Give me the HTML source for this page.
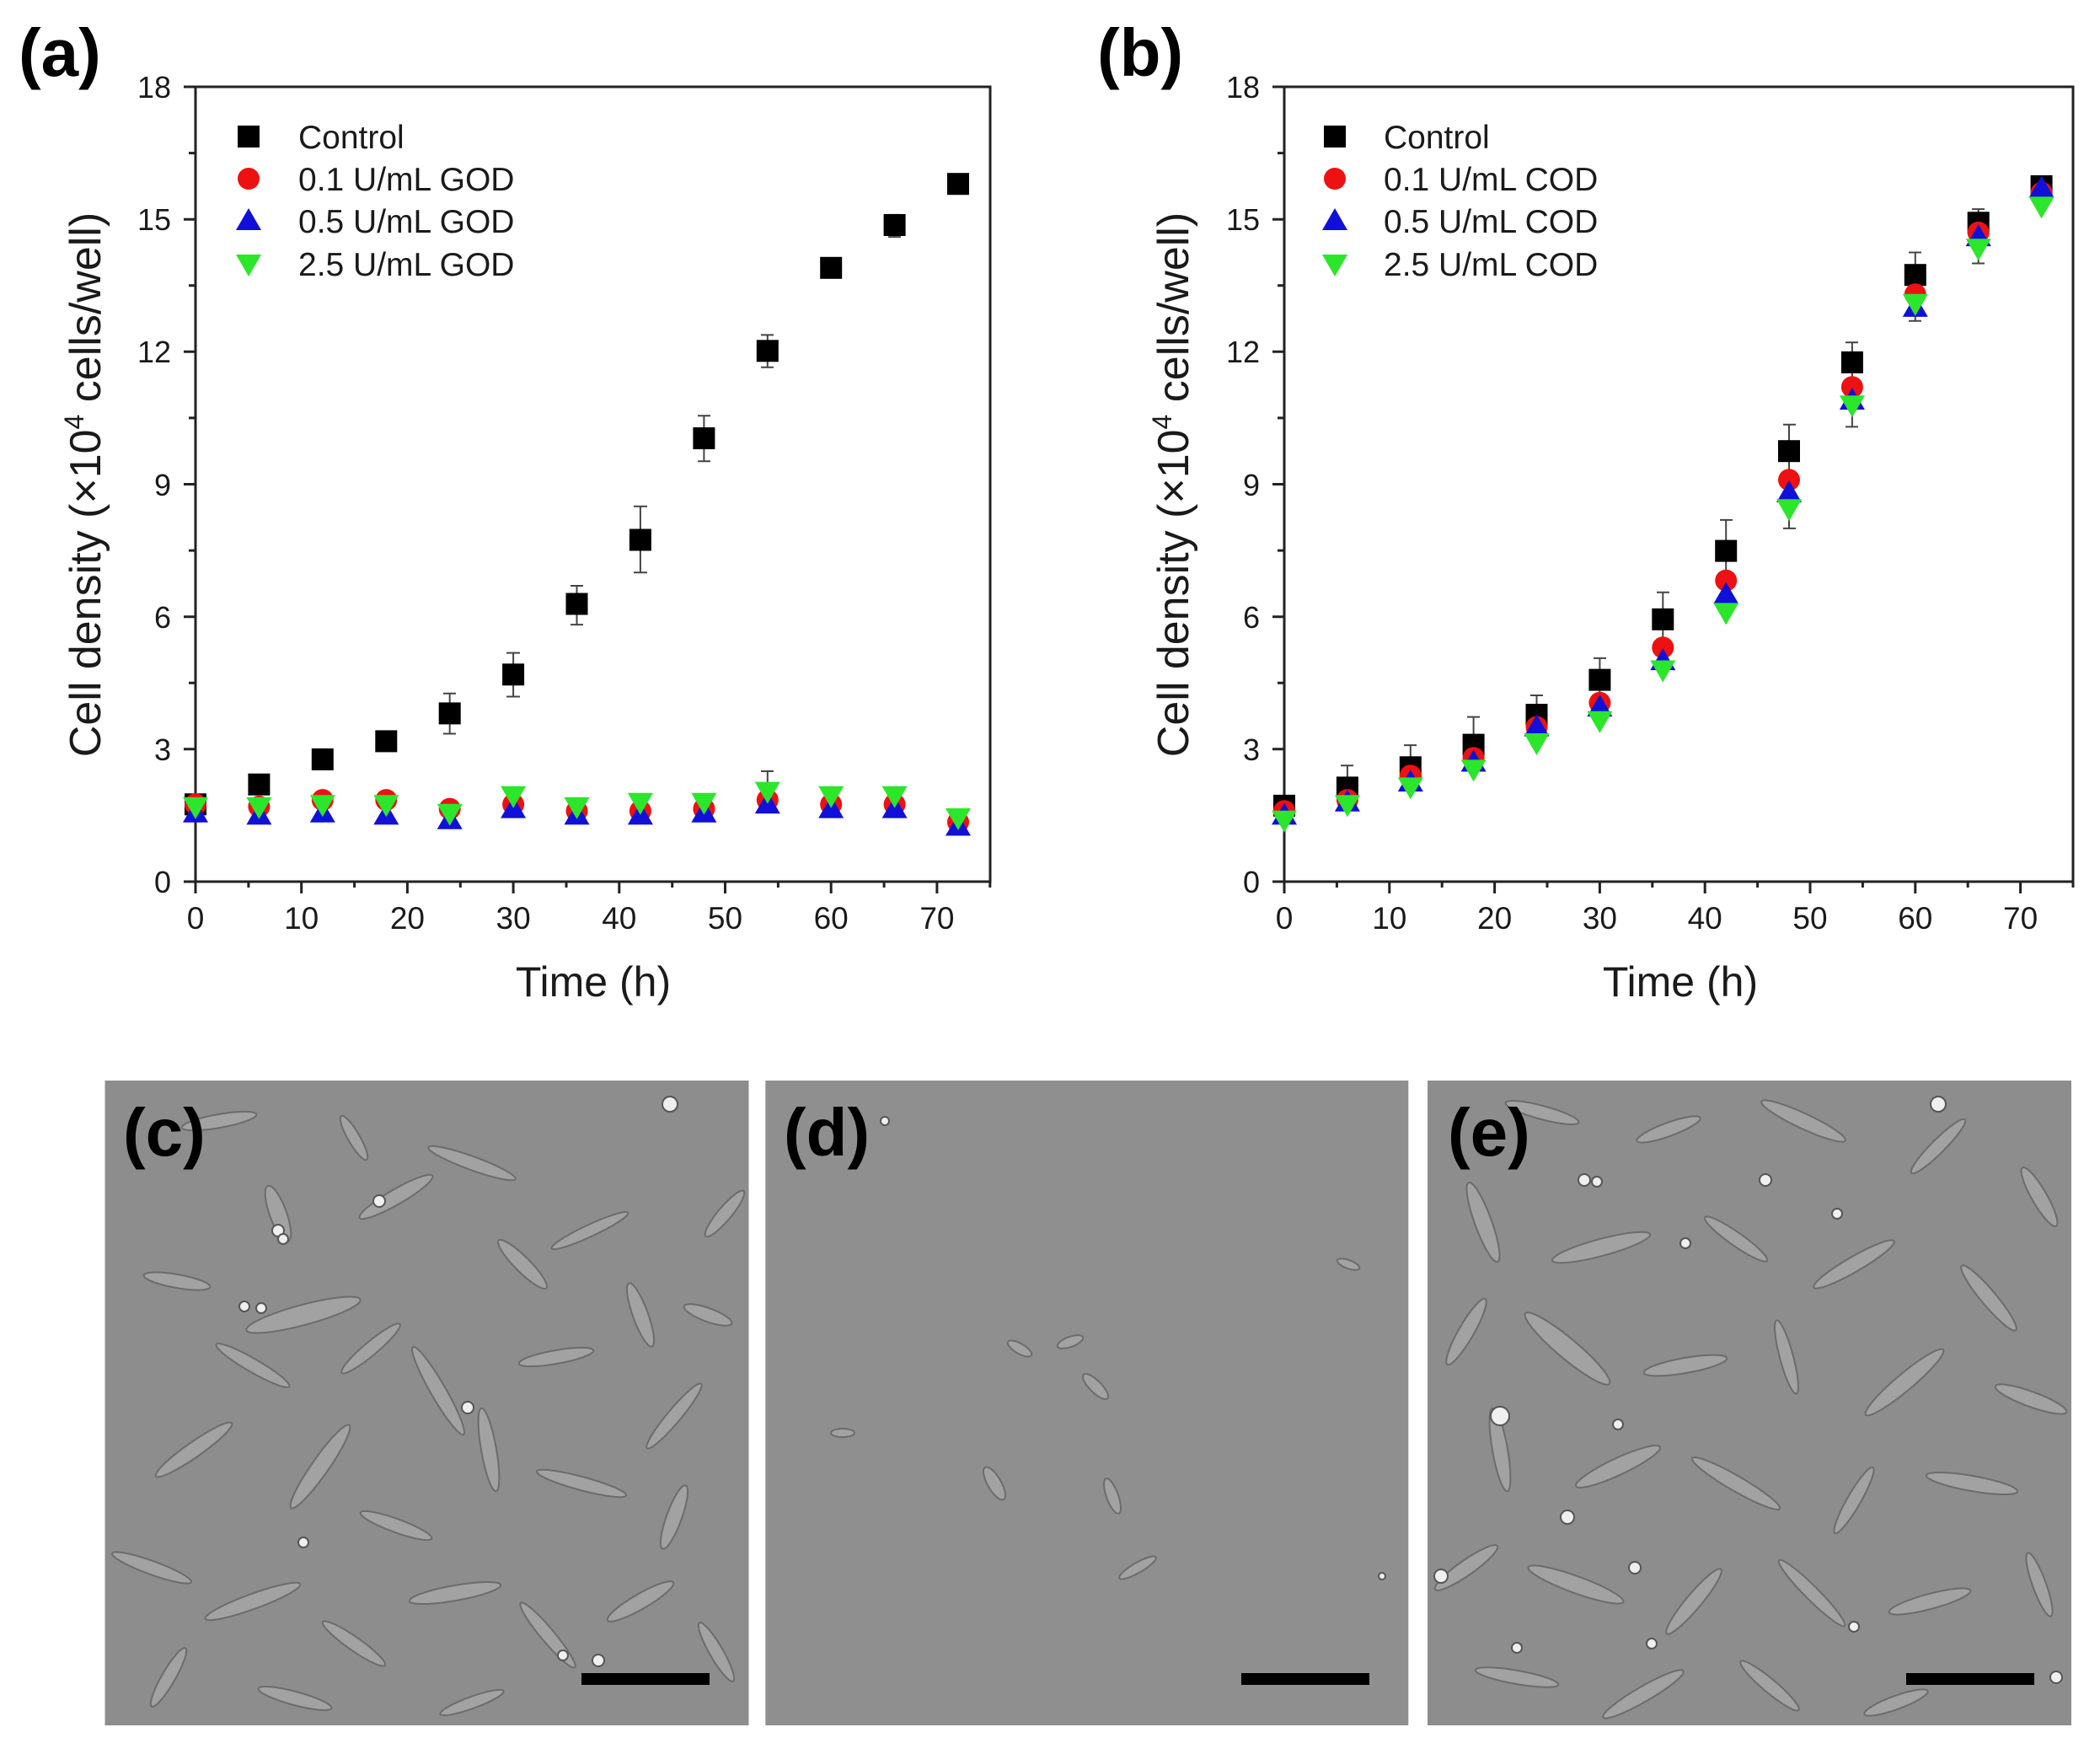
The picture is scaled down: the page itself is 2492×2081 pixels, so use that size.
<!DOCTYPE html>
<html><head><meta charset="utf-8"><style>
html,body{margin:0;padding:0;background:#fff;}
svg{display:block;}
text{font-family:"Liberation Sans",Arial,sans-serif;fill:#1a1a1a;}
.tk{font-size:36px;}
.ttl{font-size:52px;}
.lg{font-size:39px;}
.pl{font-size:80px;font-weight:bold;fill:#000;}
.ax{stroke:#222;stroke-width:3;fill:none;}
.eb{stroke:#444;stroke-width:2;fill:none;}
.cell{fill:#a2a2a2;stroke:#6c6c6c;stroke-width:2;}
.cell2{fill:#999;stroke:#b8b8b8;stroke-width:2;}
.dot{fill:#efefef;stroke:#555;stroke-width:2;}
</style></head><body>
<svg width="2492" height="2081" viewBox="0 0 2492 2081" xmlns="http://www.w3.org/2000/svg">
<defs>
<rect id="sq" x="-13" y="-13" width="26" height="26" fill="#000"/>
<circle id="ci" cx="0" cy="0" r="13" fill="#ee1111"/>
<polygon id="tu" points="0,-15 -15,11 15,11" fill="#1010d8"/>
<polygon id="td" points="-15,-11 15,-11 0,15" fill="#2be62b"/>
</defs>

<!-- ================= PANEL A ================= -->
<text class="pl" x="22" y="90">(a)</text>
<rect class="ax" x="232" y="103" width="943" height="943"/>
<g class="ax">
<path d="M218 1046H232M218 888.8H232M218 731.7H232M218 574.5H232M218 417.3H232M218 260.2H232M218 103H232"/>
<path d="M224 967.4H232M224 810.2H232M224 653.1H232M224 495.9H232M224 338.7H232M224 181.6H232"/>
<path d="M232 1046V1060M357.7 1046V1060M483.4 1046V1060M609.1 1046V1060M734.8 1046V1060M860.5 1046V1060M986.2 1046V1060M1111.9 1046V1060"/>
<path d="M294.9 1046V1053M420.6 1046V1053M546.3 1046V1053M672 1046V1053M797.7 1046V1053M923.4 1046V1053M1049.1 1046V1053M1174.8 1046V1053"/>
</g>
<g class="tk" text-anchor="end">
<text x="203" y="1059">0</text><text x="203" y="902">3</text><text x="203" y="745">6</text><text x="203" y="588">9</text><text x="203" y="430">12</text><text x="203" y="273">15</text><text x="203" y="116">18</text>
</g>
<g class="tk" text-anchor="middle" style="font-size:37px">
<text x="232" y="1102">0</text><text x="357.7" y="1102">10</text><text x="483.4" y="1102">20</text><text x="609.1" y="1102">30</text><text x="734.8" y="1102">40</text><text x="860.5" y="1102">50</text><text x="986.2" y="1102">60</text><text x="1111.9" y="1102">70</text>
</g>
<text class="ttl" x="704" y="1182" text-anchor="middle" style="font-size:50px">Time (h)</text>
<text class="ttl" transform="translate(119,575) rotate(-90)" text-anchor="middle">Cell density (×10<tspan dy="-20" style="font-size:32px">4</tspan><tspan dy="20"> cells/well)</tspan></text>

<!-- legend a -->
<use href="#sq" x="295" y="162"/><text class="lg" x="354" y="176">Control</text>
<use href="#ci" x="295" y="212"/><text class="lg" x="354" y="226">0.1 U/mL GOD</text>
<use href="#tu" x="295" y="262"/><text class="lg" x="354" y="276">0.5 U/mL GOD</text>
<use href="#td" x="295" y="313"/><text class="lg" x="354" y="327">2.5 U/mL GOD</text>

<!-- error bars a control -->
<g class="eb">
<path d="M307.4 922.9V938.6M300 922.9H315"/>
<path d="M382.8 894.1V907.2M375 894.1H390"/>
<path d="M458.3 873.1V886.2M451 873.1H466"/>
<path d="M533.7 822.8V870.5M526 822.8H541M526 870.5H541"/>
<path d="M609.1 774.6V826.5M601 774.6H617M601 826.5H617"/>
<path d="M684.5 695V741.1M677 695H692M677 741.1H692"/>
<path d="M759.9 600.7V679.3M752 600.7H768M752 679.3H768"/>
<path d="M835.4 493.3V547.2M828 493.3H843M828 547.2H843"/>
<path d="M910.8 397.4V435.7M903 397.4H918M903 435.7H918"/>
<path d="M986.2 309.9V325.6M979 309.9H994"/>
<path d="M1061.6 254.9V281.1M1054 254.9H1069M1054 281.1H1069"/>
<path d="M1137 210.4V226.1M1130 210.4H1144"/>
<path d="M910.8 915V962.2M903 915H918"/>
</g>
<!-- control a -->
<g>
<use href="#sq" x="232" y="954.3"/><use href="#sq" x="307.4" y="930.7"/><use href="#sq" x="382.8" y="900.9"/><use href="#sq" x="458.3" y="879.4"/><use href="#sq" x="533.7" y="846.4"/><use href="#sq" x="609.1" y="800.3"/><use href="#sq" x="684.5" y="716.5"/><use href="#sq" x="759.9" y="640.5"/><use href="#sq" x="835.4" y="520"/><use href="#sq" x="910.8" y="416.3"/><use href="#sq" x="986.2" y="317.8"/><use href="#sq" x="1061.6" y="267"/><use href="#sq" x="1137" y="218.2"/>
</g>
<g>
<use href="#ci" x="232" y="954.3"/><use href="#ci" x="307.4" y="956.9"/><use href="#ci" x="382.8" y="949.1"/><use href="#ci" x="458.3" y="949.1"/><use href="#ci" x="533.7" y="959.6"/><use href="#ci" x="609.1" y="954.3"/><use href="#ci" x="684.5" y="962.2"/><use href="#ci" x="759.9" y="962.2"/><use href="#ci" x="835.4" y="959.6"/><use href="#ci" x="910.8" y="949.1"/><use href="#ci" x="986.2" y="954.3"/><use href="#ci" x="1061.6" y="954.3"/><use href="#ci" x="1137" y="975.3"/>
</g>
<g>
<use href="#tu" x="232" y="964.8"/><use href="#tu" x="307.4" y="967.4"/><use href="#tu" x="382.8" y="964.8"/><use href="#tu" x="458.3" y="967.4"/><use href="#tu" x="533.7" y="972.7"/><use href="#tu" x="609.1" y="959.6"/><use href="#tu" x="684.5" y="967.4"/><use href="#tu" x="759.9" y="967.4"/><use href="#tu" x="835.4" y="964.8"/><use href="#tu" x="910.8" y="954.3"/><use href="#tu" x="986.2" y="959.6"/><use href="#tu" x="1061.6" y="959.6"/><use href="#tu" x="1137" y="980.5"/>
</g>
<g>
<use href="#td" x="232" y="956.9"/><use href="#td" x="307.4" y="956.9"/><use href="#td" x="382.8" y="954.3"/><use href="#td" x="458.3" y="954.3"/><use href="#td" x="533.7" y="964.8"/><use href="#td" x="609.1" y="943.8"/><use href="#td" x="684.5" y="956.9"/><use href="#td" x="759.9" y="951.7"/><use href="#td" x="835.4" y="951.7"/><use href="#td" x="910.8" y="938.6"/><use href="#td" x="986.2" y="943.8"/><use href="#td" x="1061.6" y="943.8"/><use href="#td" x="1137" y="970"/>
</g>

<!-- ================= PANEL B ================= -->
<text class="pl" x="1302" y="90">(b)</text>
<rect class="ax" x="1524" y="103" width="936" height="943"/>
<g class="ax">
<path d="M1510 1046H1524M1510 888.8H1524M1510 731.7H1524M1510 574.5H1524M1510 417.3H1524M1510 260.2H1524M1510 103H1524"/>
<path d="M1516 967.4H1524M1516 810.2H1524M1516 653.1H1524M1516 495.9H1524M1516 338.7H1524M1516 181.6H1524"/>
<path d="M1524 1046V1060M1648.8 1046V1060M1773.6 1046V1060M1898.4 1046V1060M2023.2 1046V1060M2148 1046V1060M2272.8 1046V1060M2397.6 1046V1060"/>
<path d="M1586.4 1046V1053M1711.2 1046V1053M1836 1046V1053M1960.8 1046V1053M2085.6 1046V1053M2210.4 1046V1053M2335.2 1046V1053M2460 1046V1053"/>
</g>
<g class="tk" text-anchor="end">
<text x="1495" y="1059">0</text><text x="1495" y="902">3</text><text x="1495" y="745">6</text><text x="1495" y="588">9</text><text x="1495" y="430">12</text><text x="1495" y="273">15</text><text x="1495" y="116">18</text>
</g>
<g class="tk" text-anchor="middle" style="font-size:37px">
<text x="1524" y="1102">0</text><text x="1648.8" y="1102">10</text><text x="1773.6" y="1102">20</text><text x="1898.4" y="1102">30</text><text x="2023.2" y="1102">40</text><text x="2148" y="1102">50</text><text x="2272.8" y="1102">60</text><text x="2397.6" y="1102">70</text>
</g>
<text class="ttl" x="1994" y="1182" text-anchor="middle" style="font-size:50px">Time (h)</text>
<text class="ttl" transform="translate(1410,575) rotate(-90)" text-anchor="middle">Cell density (×10<tspan dy="-20" style="font-size:32px">4</tspan><tspan dy="20"> cells/well)</tspan></text>

<use href="#sq" x="1584" y="162"/><text class="lg" x="1642" y="176">Control</text>
<use href="#ci" x="1584" y="212"/><text class="lg" x="1642" y="226">0.1 U/mL COD</text>
<use href="#tu" x="1584" y="262"/><text class="lg" x="1642" y="276">0.5 U/mL COD</text>
<use href="#td" x="1584" y="313"/><text class="lg" x="1642" y="327">2.5 U/mL COD</text>

<g class="eb">
<path d="M1524 945.4V966.4M1517 945.4H1531"/>
<path d="M1598.9 908.2V960.6M1591 908.2H1606"/>
<path d="M1673.8 884.1V936.5M1666 884.1H1681"/>
<path d="M1748.6 850.6V916.6M1741 850.6H1756"/>
<path d="M1823.5 825V871M1816 825H1831"/>
<path d="M1898.4 780.9V832.3M1891 780.9H1906"/>
<path d="M1973.3 702.8V766.8M1966 702.8H1981"/>
<path d="M2048.2 616.9V690.3M2041 616.9H2056"/>
<path d="M2123 503.8V566.6M2116 503.8H2131"/>
<path d="M2197.9 406.3V453.5M2190 406.3H2205"/>
<path d="M2272.8 299.5V352.9M2265 299.5H2280"/>
<path d="M2347.7 248.1V280.5M2340 248.1H2355"/>
<path d="M2422.6 213V228.8M2415 213H2430"/>
<path d="M2123 579.7V626.9M2116 626.9H2131"/>
<path d="M2197.9 454V506.4M2190 506.4H2205"/>
<path d="M2272.8 338.7V380.7M2265 380.7H2280"/>
<path d="M2347.7 275.9V312.5M2340 312.5H2355"/>
</g>
<g>
<use href="#sq" x="1524" y="955.9"/><use href="#sq" x="1598.9" y="934.4"/><use href="#sq" x="1673.8" y="910.3"/><use href="#sq" x="1748.6" y="883.6"/><use href="#sq" x="1823.5" y="848"/><use href="#sq" x="1898.4" y="806.6"/><use href="#sq" x="1973.3" y="734.8"/><use href="#sq" x="2048.2" y="653.6"/><use href="#sq" x="2123" y="535.2"/><use href="#sq" x="2197.9" y="429.9"/><use href="#sq" x="2272.8" y="326.2"/><use href="#sq" x="2347.7" y="264.3"/><use href="#sq" x="2422.6" y="220.9"/>
</g>
<g>
<use href="#ci" x="1524" y="962.2"/><use href="#ci" x="1598.9" y="949.1"/><use href="#ci" x="1673.8" y="920.3"/><use href="#ci" x="1748.6" y="899.3"/><use href="#ci" x="1823.5" y="862.6"/><use href="#ci" x="1898.4" y="833.8"/><use href="#ci" x="1973.3" y="768.3"/><use href="#ci" x="2048.2" y="688.7"/><use href="#ci" x="2123" y="569.3"/><use href="#ci" x="2197.9" y="459.2"/><use href="#ci" x="2272.8" y="349.2"/><use href="#ci" x="2347.7" y="275.9"/><use href="#ci" x="2422.6" y="228.7"/>
</g>
<g>
<use href="#tu" x="1524" y="967.4"/><use href="#tu" x="1598.9" y="951.7"/><use href="#tu" x="1673.8" y="928.1"/><use href="#tu" x="1748.6" y="904.5"/><use href="#tu" x="1823.5" y="862.6"/><use href="#tu" x="1898.4" y="839.1"/><use href="#tu" x="1973.3" y="784.1"/><use href="#tu" x="2048.2" y="705.5"/><use href="#tu" x="2123" y="585"/><use href="#tu" x="2197.9" y="475"/><use href="#tu" x="2272.8" y="364.9"/><use href="#tu" x="2347.7" y="281.1"/><use href="#tu" x="2422.6" y="223.5"/>
</g>
<g>
<use href="#td" x="1524" y="972.7"/><use href="#td" x="1598.9" y="954.3"/><use href="#td" x="1673.8" y="933.4"/><use href="#td" x="1748.6" y="912.4"/><use href="#td" x="1823.5" y="881"/><use href="#td" x="1898.4" y="854.8"/><use href="#td" x="1973.3" y="794.5"/><use href="#td" x="2048.2" y="726.4"/><use href="#td" x="2123" y="603.3"/><use href="#td" x="2197.9" y="480.2"/><use href="#td" x="2272.8" y="359.7"/><use href="#td" x="2347.7" y="294.2"/><use href="#td" x="2422.6" y="244.4"/>
</g>

<!-- ================= MICROGRAPHS ================= -->
<!-- (c) -->
<clipPath id="cc"><rect x="124.5" y="1282" width="764" height="765"/></clipPath>
<rect x="124.5" y="1282" width="764" height="765" fill="#8d8d8d"/>
<g clip-path="url(#cc)">
<g class="cell">
<ellipse cx="260" cy="1330" rx="45" ry="8" transform="rotate(-10 260 1330)"/>
<ellipse cx="420" cy="1350" rx="30" ry="7" transform="rotate(60 420 1350)"/>
<ellipse cx="470" cy="1420" rx="50" ry="9" transform="rotate(-30 470 1420)"/>
<ellipse cx="330" cy="1440" rx="35" ry="10" transform="rotate(70 330 1440)"/>
<ellipse cx="560" cy="1380" rx="55" ry="8" transform="rotate(20 560 1380)"/>
<ellipse cx="700" cy="1460" rx="50" ry="7" transform="rotate(-25 700 1460)"/>
<ellipse cx="620" cy="1500" rx="40" ry="9" transform="rotate(45 620 1500)"/>
<ellipse cx="210" cy="1520" rx="40" ry="8" transform="rotate(10 210 1520)"/>
<ellipse cx="360" cy="1560" rx="70" ry="12" transform="rotate(-15 360 1560)"/>
<ellipse cx="300" cy="1620" rx="50" ry="8" transform="rotate(30 300 1620)"/>
<ellipse cx="440" cy="1600" rx="45" ry="8" transform="rotate(-40 440 1600)"/>
<ellipse cx="520" cy="1650" rx="60" ry="9" transform="rotate(60 520 1650)"/>
<ellipse cx="660" cy="1610" rx="45" ry="8" transform="rotate(-10 660 1610)"/>
<ellipse cx="760" cy="1560" rx="40" ry="9" transform="rotate(70 760 1560)"/>
<ellipse cx="800" cy="1680" rx="50" ry="8" transform="rotate(-50 800 1680)"/>
<ellipse cx="230" cy="1720" rx="55" ry="9" transform="rotate(-35 230 1720)"/>
<ellipse cx="380" cy="1740" rx="60" ry="10" transform="rotate(-55 380 1740)"/>
<ellipse cx="470" cy="1810" rx="45" ry="8" transform="rotate(20 470 1810)"/>
<ellipse cx="580" cy="1720" rx="50" ry="9" transform="rotate(80 580 1720)"/>
<ellipse cx="690" cy="1760" rx="55" ry="8" transform="rotate(15 690 1760)"/>
<ellipse cx="800" cy="1800" rx="40" ry="9" transform="rotate(-70 800 1800)"/>
<ellipse cx="180" cy="1860" rx="50" ry="8" transform="rotate(20 180 1860)"/>
<ellipse cx="300" cy="1900" rx="60" ry="9" transform="rotate(-20 300 1900)"/>
<ellipse cx="420" cy="1950" rx="45" ry="8" transform="rotate(35 420 1950)"/>
<ellipse cx="540" cy="1890" rx="55" ry="9" transform="rotate(-10 540 1890)"/>
<ellipse cx="650" cy="1940" rx="50" ry="8" transform="rotate(50 650 1940)"/>
<ellipse cx="760" cy="1900" rx="45" ry="9" transform="rotate(-30 760 1900)"/>
<ellipse cx="850" cy="1960" rx="40" ry="8" transform="rotate(60 850 1960)"/>
<ellipse cx="200" cy="1990" rx="40" ry="8" transform="rotate(-60 200 1990)"/>
<ellipse cx="350" cy="2015" rx="45" ry="8" transform="rotate(15 350 2015)"/>
<ellipse cx="560" cy="2020" rx="40" ry="7" transform="rotate(-20 560 2020)"/>
<ellipse cx="860" cy="1440" rx="35" ry="8" transform="rotate(-50 860 1440)"/>
<ellipse cx="840" cy="1560" rx="30" ry="8" transform="rotate(20 840 1560)"/>
</g>
<g class="dot">
<circle cx="795" cy="1310" r="9"/><circle cx="450" cy="1425" r="7"/><circle cx="330" cy="1460" r="7"/><circle cx="336" cy="1470" r="6"/><circle cx="290" cy="1550" r="6"/><circle cx="310" cy="1552" r="6"/><circle cx="555" cy="1670" r="7"/><circle cx="360" cy="1830" r="6"/><circle cx="710" cy="1970" r="7"/><circle cx="668" cy="1964" r="6"/>
</g>
</g>
<text class="pl" x="146" y="1371">(c)</text>
<rect x="690" y="1985" width="152" height="14" fill="#000"/>

<!-- (d) -->
<rect x="908.3" y="1282" width="763" height="765" fill="#8f8f8f"/>
<g class="cell">
<ellipse cx="1210" cy="1600" rx="16" ry="6" transform="rotate(30 1210 1600)"/>
<ellipse cx="1270" cy="1592" rx="16" ry="6" transform="rotate(-20 1270 1592)"/>
<ellipse cx="1300" cy="1645" rx="20" ry="7" transform="rotate(45 1300 1645)"/>
<ellipse cx="1000" cy="1700" rx="14" ry="5"/>
<ellipse cx="1180" cy="1760" rx="22" ry="8" transform="rotate(60 1180 1760)"/>
<ellipse cx="1320" cy="1775" rx="22" ry="7" transform="rotate(70 1320 1775)"/>
<ellipse cx="1350" cy="1860" rx="25" ry="6" transform="rotate(-30 1350 1860)"/>
<ellipse cx="1600" cy="1500" rx="14" ry="5" transform="rotate(20 1600 1500)"/>
</g>
<g class="dot"><circle cx="1050" cy="1330" r="5"/><circle cx="1640" cy="1870" r="4"/></g>
<text class="pl" x="930" y="1371">(d)</text>
<rect x="1473" y="1985" width="152" height="14" fill="#000"/>

<!-- (e) -->
<clipPath id="ce"><rect x="1694" y="1282" width="764" height="765"/></clipPath>
<rect x="1694" y="1282" width="764" height="765" fill="#8d8d8d"/>
<g clip-path="url(#ce)">
<g class="cell">
<ellipse cx="1830" cy="1320" rx="45" ry="8" transform="rotate(15 1830 1320)"/>
<ellipse cx="1980" cy="1340" rx="40" ry="8" transform="rotate(-20 1980 1340)"/>
<ellipse cx="2140" cy="1330" rx="55" ry="9" transform="rotate(25 2140 1330)"/>
<ellipse cx="2300" cy="1360" rx="45" ry="8" transform="rotate(-45 2300 1360)"/>
<ellipse cx="2420" cy="1420" rx="40" ry="9" transform="rotate(60 2420 1420)"/>
<ellipse cx="1760" cy="1450" rx="50" ry="10" transform="rotate(70 1760 1450)"/>
<ellipse cx="1900" cy="1480" rx="60" ry="10" transform="rotate(-15 1900 1480)"/>
<ellipse cx="2060" cy="1470" rx="45" ry="8" transform="rotate(35 2060 1470)"/>
<ellipse cx="2200" cy="1500" rx="55" ry="9" transform="rotate(-30 2200 1500)"/>
<ellipse cx="2360" cy="1540" rx="50" ry="9" transform="rotate(50 2360 1540)"/>
<ellipse cx="1740" cy="1580" rx="45" ry="9" transform="rotate(-60 1740 1580)"/>
<ellipse cx="1860" cy="1600" rx="65" ry="12" transform="rotate(40 1860 1600)"/>
<ellipse cx="2000" cy="1620" rx="50" ry="9" transform="rotate(-10 2000 1620)"/>
<ellipse cx="2120" cy="1610" rx="45" ry="8" transform="rotate(75 2120 1610)"/>
<ellipse cx="2260" cy="1640" rx="60" ry="10" transform="rotate(-40 2260 1640)"/>
<ellipse cx="2410" cy="1660" rx="45" ry="9" transform="rotate(20 2410 1660)"/>
<ellipse cx="1780" cy="1720" rx="50" ry="9" transform="rotate(80 1780 1720)"/>
<ellipse cx="1920" cy="1740" rx="55" ry="10" transform="rotate(-25 1920 1740)"/>
<ellipse cx="2060" cy="1760" rx="60" ry="9" transform="rotate(30 2060 1760)"/>
<ellipse cx="2200" cy="1780" rx="45" ry="8" transform="rotate(-60 2200 1780)"/>
<ellipse cx="2340" cy="1760" rx="55" ry="9" transform="rotate(10 2340 1760)"/>
<ellipse cx="1740" cy="1860" rx="45" ry="9" transform="rotate(-35 1740 1860)"/>
<ellipse cx="1870" cy="1880" rx="60" ry="10" transform="rotate(20 1870 1880)"/>
<ellipse cx="2010" cy="1900" rx="50" ry="9" transform="rotate(-50 2010 1900)"/>
<ellipse cx="2150" cy="1890" rx="55" ry="8" transform="rotate(45 2150 1890)"/>
<ellipse cx="2290" cy="1900" rx="50" ry="9" transform="rotate(-15 2290 1900)"/>
<ellipse cx="2420" cy="1880" rx="40" ry="8" transform="rotate(70 2420 1880)"/>
<ellipse cx="1800" cy="1990" rx="50" ry="8" transform="rotate(10 1800 1990)"/>
<ellipse cx="1950" cy="2010" rx="55" ry="9" transform="rotate(-30 1950 2010)"/>
<ellipse cx="2100" cy="2000" rx="45" ry="8" transform="rotate(40 2100 2000)"/>
<ellipse cx="2250" cy="2020" rx="40" ry="8" transform="rotate(-20 2250 2020)"/>
</g>
<g class="dot">
<circle cx="2300" cy="1310" r="9"/><circle cx="1880" cy="1400" r="7"/><circle cx="1895" cy="1402" r="6"/><circle cx="2095" cy="1400" r="7"/><circle cx="2000" cy="1475" r="6"/><circle cx="2180" cy="1440" r="6"/><circle cx="1780" cy="1680" r="11"/><circle cx="1920" cy="1690" r="6"/><circle cx="1860" cy="1800" r="8"/><circle cx="1940" cy="1860" r="7"/><circle cx="1710" cy="1870" r="8"/><circle cx="1800" cy="1955" r="6"/><circle cx="1960" cy="1950" r="6"/><circle cx="2200" cy="1930" r="6"/><circle cx="2440" cy="1990" r="7"/>
</g>
</g>
<text class="pl" x="1718" y="1371">(e)</text>
<rect x="2262" y="1985" width="152" height="14" fill="#000"/>
</svg>
</body></html>
